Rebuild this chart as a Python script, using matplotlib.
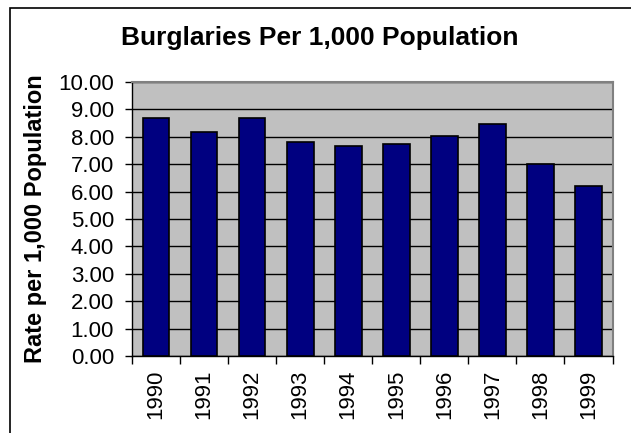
import numpy as np
import matplotlib
matplotlib.use('Agg')
import matplotlib.pyplot as plt
from matplotlib.patches import Rectangle

plt.rcParams['font.family'] = ['Liberation Sans', 'DejaVu Sans']

years = ['1990', '1991', '1992', '1993', '1994',
         '1995', '1996', '1997', '1998', '1999']
rates = [8.70, 8.19, 8.70, 7.82, 7.66, 7.75, 8.03, 8.48, 7.01, 6.20]
y_ticks = [0, 1, 2, 3, 4, 5, 6, 7, 8, 9, 10]

fig = plt.figure(figsize=(6.31, 4.33), dpi=100)
ax = fig.add_axes([0.2092, 0.1778, 0.7615, 0.6328])

x = np.arange(len(years))
ax.bar(x, rates, width=0.556, color='#000080', edgecolor='black',
       linewidth=1.2, zorder=3)

ax.set_facecolor('#C0C0C0')
ax.set_xlim(-0.5, len(years) - 0.5)
ax.set_ylim(0, 10)
ax.set_yticks(y_ticks)
ax.set_yticklabels([f'{v:.2f}' for v in y_ticks], fontsize=16)
ax.yaxis.grid(True, color='black', linewidth=1, zorder=1)
ax.set_axisbelow(True)

ax.set_xticks(x)
ax.set_xticklabels(years, rotation=90, fontsize=16)
ax.set_xticks(np.arange(len(years) + 1) - 0.5, minor=True)
ax.tick_params(axis='x', which='major', length=0, pad=10)
ax.tick_params(axis='x', which='minor', length=6, width=1, direction='out')
ax.tick_params(axis='y', length=5, width=1, direction='out', pad=8)

for side in ['top', 'right']:
    ax.spines[side].set_color('#808080')
    ax.spines[side].set_linewidth(1.5)
for side in ['left', 'bottom']:
    ax.spines[side].set_color('black')
    ax.spines[side].set_linewidth(1)

ax.set_ylabel('Rate per 1,000 Population', fontsize=17, fontweight='bold',
              labelpad=8)
fig.text(0.507, 0.913, 'Burglaries Per 1,000 Population', fontsize=19,
         fontweight='bold', ha='center', va='center')

# chart area border
fig.patches.append(Rectangle((10 / 631, -0.1), 1.1, 1.1 - 8 / 433,
                             transform=fig.transFigure, fill=False,
                             edgecolor='black', linewidth=1.2))

fig.savefig('out.png', dpi=100)
